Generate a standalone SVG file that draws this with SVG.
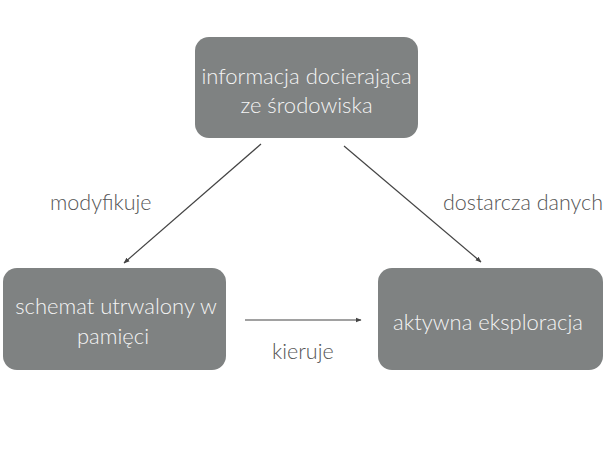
<svg xmlns="http://www.w3.org/2000/svg" width="608" height="476" viewBox="0 0 608 476">
<style>
.box{fill:#7f8282;}
.t{font-family:Lato,"Open Sans","Liberation Sans",sans-serif;font-size:22px;fill:#f4f4f4;text-anchor:middle;font-weight:300;}
.l{font-family:Lato,"Open Sans","Liberation Sans",sans-serif;font-size:21.5px;fill:#555;font-weight:300;}
.c{stroke:#444;stroke-width:1.2;fill:none;marker-end:url(#ah);}
</style>
<defs>
<marker id="ah" viewBox="0 0 10 10" refX="9" refY="5" markerWidth="6" markerHeight="6" orient="auto" markerUnits="userSpaceOnUse">
<path d="M0,1 L10,5 L0,9 z" fill="#444"/>
</marker>
</defs>
<rect width="608" height="476" fill="#fff"/>
<g id="connectors">
<line class="c" x1="261" y1="144" x2="124" y2="263"/>
<line class="c" x1="344" y1="146" x2="481" y2="262"/>
<line class="c" x1="245" y1="320" x2="361" y2="320"/>
<text class="l" x="50" y="210">modyfikuje</text>
<text class="l" x="443" y="210">dostarcza danych</text>
<text class="l" x="272" y="359">kieruje</text>
</g>
<g id="node-info">
<rect class="box" x="195" y="37" width="223" height="101" rx="14"/>
<text class="t" x="306.5" y="84">informacja docierająca</text>
<text class="t" x="306.5" y="113">ze środowiska</text>
</g>
<g id="node-schemat">
<rect class="box" x="3" y="268" width="223" height="102" rx="14"/>
<text class="t" x="116" y="314">schemat utrwalony w</text>
<text class="t" x="113" y="344">pamięci</text>
</g>
<g id="node-eksploracja">
<rect class="box" x="378" y="268" width="225" height="102" rx="14"/>
<text class="t" x="488" y="330">aktywna eksploracja</text>
</g>
</svg>
